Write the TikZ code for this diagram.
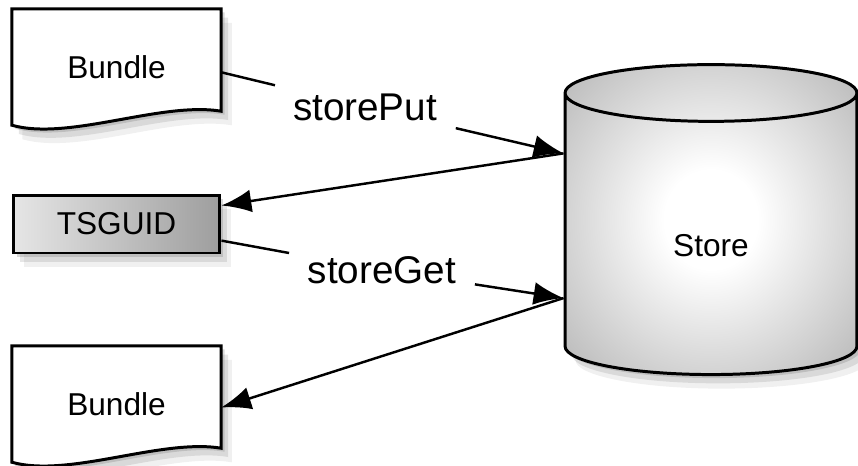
\documentclass[tikz,border=0pt]{standalone}
\usepackage{fontspec}
\setmainfont{Liberation Sans}
\usetikzlibrary{arrows.meta,shapes.geometric,shadows,backgrounds,calc}

\pgfdeclareradialshading{storeglow}{\pgfpoint{0bp}{0bp}}{color(0bp)=(white); color(8bp)=(white); color(45bp)=(black!38); color(72bp)=(black!48)}

\tikzset{
    soft shadow/.style={
        drop shadow={shadow xshift=2pt,shadow yshift=-2pt,opacity=0.3},
        drop shadow={shadow xshift=4pt,shadow yshift=-5pt,opacity=0.2},
        drop shadow={shadow xshift=6pt,shadow yshift=-8pt,opacity=0.12}
    }
}

\begin{document}
\begin{tikzpicture}[x=0.02cm,y=-0.02cm,>={Latex[length=17pt,width=13pt]},line width=1.4pt,
    doc node/.style={minimum width=4.14cm,minimum height=2.28cm,inner sep=0pt,font=\fontsize{18}{20}\selectfont},
    doc outline/.style={draw,fill=white,line width=1.7pt,soft shadow},
    key node/.style={draw,line width=1.7pt,minimum width=4.14cm,minimum height=1.16cm,inner sep=0pt,
        left color=black!10,right color=black!38,soft shadow,font=\fontsize{18}{20}\selectfont},
    op label/.style={inner xsep=10pt,inner ysep=4pt,font=\fontsize{22}{24}\selectfont},
    store node/.style={cylinder,shape border rotate=90,aspect=0.65,draw,line width=1.7pt,
        minimum width=5.84cm,minimum height=6.2cm,shading=storeglow,soft shadow,
        font=\fontsize{18}{20}\selectfont}]

    \useasboundingbox (0,0) rectangle (858,466);

    \node[doc node] (bundle1) at (116.5,67) {Bundle};
    \node[key node] (tsguid) at (116.5,224) {TSGUID};
    \node[doc node] (bundle2) at (116.5,404) {Bundle};
    \node[store node] (store) at (711,238.5) {\raisebox{-10.4pt}[0pt][0pt]{Store}};

    \node[op label] (putlabel) at (365,107) {storePut};
    \node[op label] (getlabel) at (382,270) {storeGet};

    % document outlines behind the text
    \begin{scope}[on background layer]
        \foreach \doc in {bundle1,bundle2}{
            \path[doc outline] (\doc.north west) -- (\doc.north east)
                -- ($(\doc.south east)+(0,-14)$)
                .. controls ($(\doc.south east)+(-60,-24)$) and ($(\doc.south west)+(57,16)$) .. (\doc.south west)
                -- cycle;
        }
    \end{scope}

    \path ([yshift=-3pt]bundle1.east) edge[-] (putlabel)
          (putlabel) edge[->] (store.150)
          (store.150) edge[->] (tsguid.10)
          (tsguid.-9) edge[-] (getlabel)
          (getlabel) edge[->] (store.202)
          (store.202) edge[->] ([yshift=-2pt]bundle2.east);

\end{tikzpicture}
\end{document}
